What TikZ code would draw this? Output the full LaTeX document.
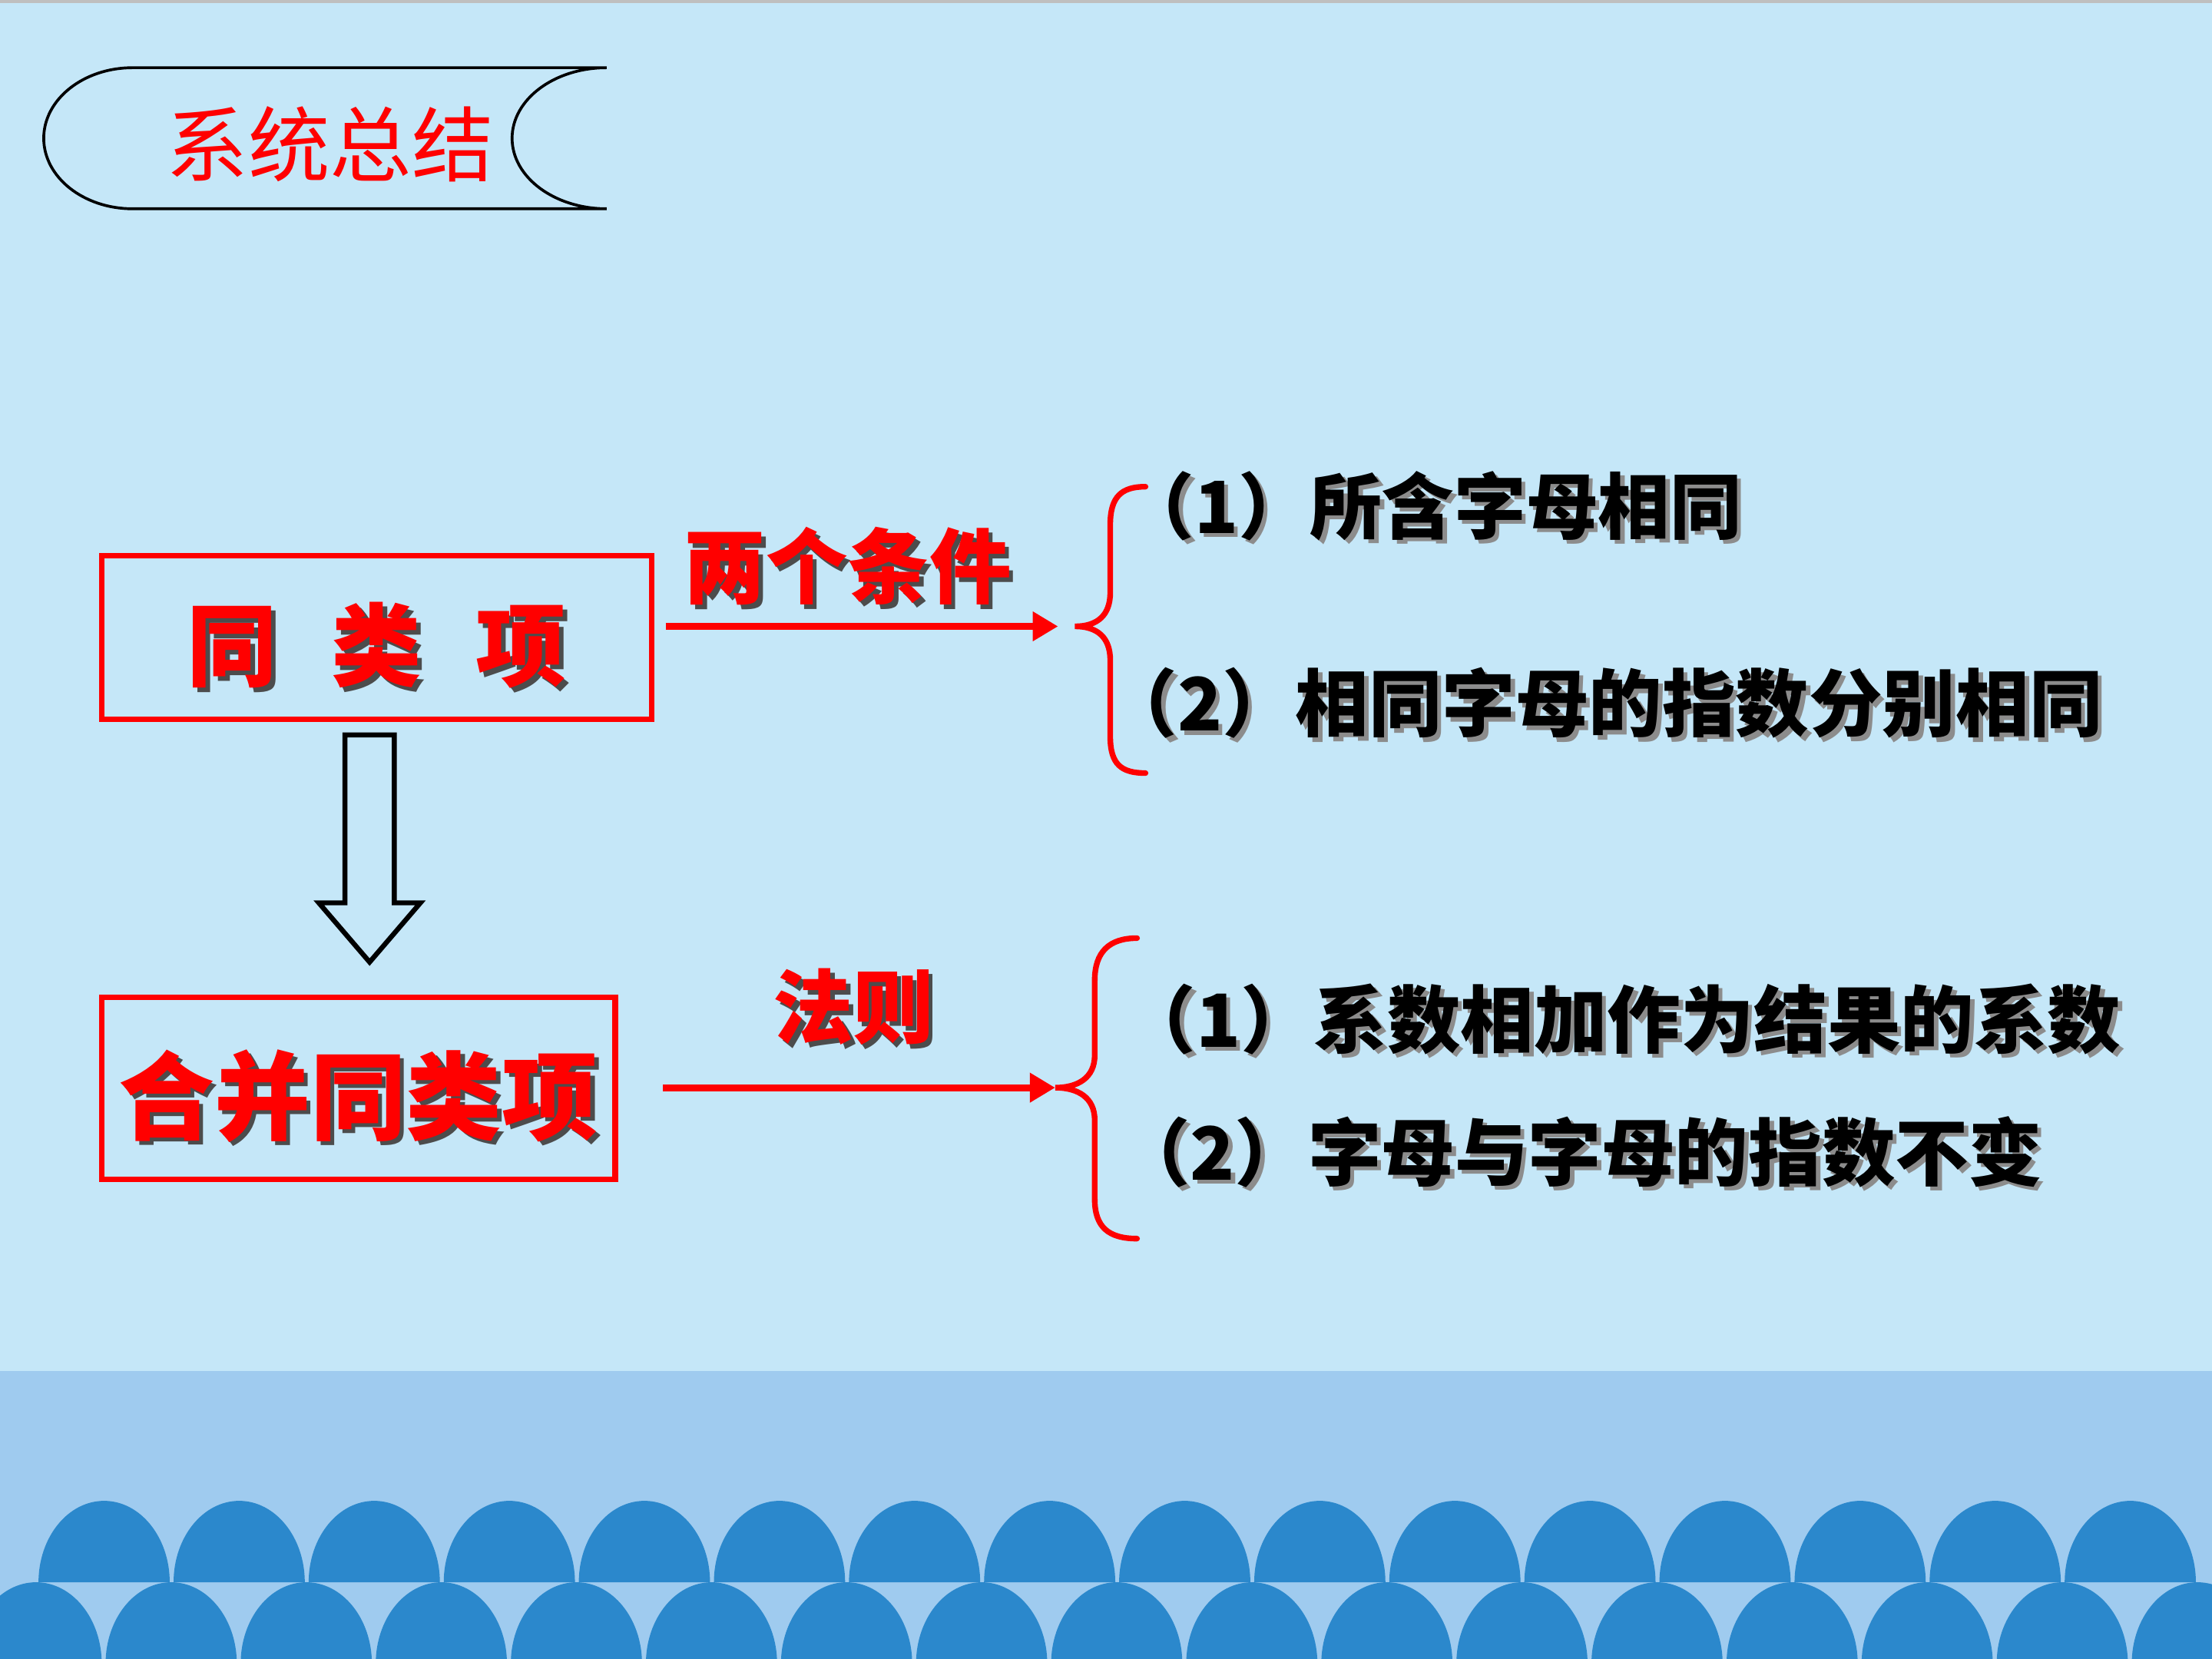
\documentclass[tikz,border=0pt]{standalone}
\usepackage{fontspec}
\newfontfamily\cjk{Noto Sans CJK SC}
\usetikzlibrary{arrows.meta,calc}

\definecolor{skytop}{HTML}{C5E7F8}
\definecolor{skyband}{HTML}{9FCBEF}
\definecolor{wave}{HTML}{2B88CC}
\definecolor{keyred}{HTML}{FF0000}

% text with a soft drop shadow
\newcommand\shad[2]{\makebox[0pt][l]{\hspace{1.5pt}\raisebox{-1.5pt}{\textcolor{#1}{#2}}}#2}
\newcommand\fsz[1]{\fontsize{#1}{#1}\selectfont}
% lower text but keep its box
\newcommand\sinktext[2]{\raisebox{-#1}[\height][\depth]{#2}}

\tikzset{every picture/.style={line width=0.75pt}}

\begin{document}
\begin{tikzpicture}[x=0.5pt,y=0.5pt,yscale=-1,xscale=1,
	redbox/.style={draw=keyred, line width=2pt, inner sep=0pt, text=keyred},
	redarrow/.style={draw=keyred, line width=2.5pt, -{Triangle[length=9pt,width=10pt]}},
	brace/.style={draw=keyred, line width=2pt, line cap=round},
	hollow/.style={draw=black, line width=1.75pt, line join=miter},
	item/.style={anchor=west, inner sep=0pt, text=black, font=\cjk\bfseries\fsz{26pt}}]
	\useasboundingbox (0,0) rectangle (1568,1176);

	%Shape: Background
	\fill[skytop] (0,0) rectangle (1568,972);
	\fill[skyband] (0,972) rectangle (1568,1176);
	\draw[black!25, line width=1pt] (0,1) -- (1568,1);
	\begin{scope}
		\clip (0,0) rectangle (1568,1176);
		\foreach \i in {0,...,15}
			\fill[wave] ({27.3+95.75*\i},1121.6) arc[start angle=180,end angle=360,x radius=46.5,y radius=57.7] -- cycle;
		\foreach \i in {0,...,16}
			\fill[wave] ({-20.9+95.75*\i},1179.3) arc[start angle=180,end angle=360,x radius=46.5,y radius=57.7] -- cycle;
	\end{scope}

	%Shape: Title Tab
	\draw[line width=1pt] (430,148) -- (94,148) arc[start angle=90,end angle=270,x radius=63,y radius=50] -- (430,48) arc[start angle=270,end angle=90,x radius=67,y radius=50];
	% Text Node
	\node[inner sep=0pt, text=keyred, font=\cjk\fsz{29pt}] (title) at (234,102) {系统总结};

	%Shape: Rectangle
	\node[redbox, minimum width=195pt, minimum height=58pt, font=\cjk\bfseries\fsz{32pt}] (same) at (267,452) {\sinktext{3.5pt}{\shad{black!70}{同\hspace{0.6em}类\hspace{0.6em}项}}};
	%Shape: Rectangle
	\node[redbox, minimum width=182pt, minimum height=64.5pt, font=\cjk\bfseries\fsz{34pt}] (merge) at (254,771.5) {\sinktext{3.5pt}{\shad{black!70}{合并同类项}}};

	%Shape: Hollow Arrow
	\coordinate (dtop) at ($(same.south)+(-5,9)$);
	\coordinate (dtip) at ($(merge.north)+(8,-23)$);
	\draw[hollow] ($(dtop)+(-17.5,0)$) -- ($(dtop)+(17.5,0)$) -- ($(dtip)+(17.5,-42)$) -- ($(dtip)+(36,-42)$) -- (dtip) -- ($(dtip)+(-36,-42)$) -- ($(dtip)+(-17.5,-42)$) -- cycle;

	%Curve Lines
	\coordinate (tipA) at (762,444);
	\draw[brace] (812,345) .. controls (795,345) and (787,352) .. (787,372) -- (787,420) .. controls (787,436) and (778,444) .. (tipA) .. controls (778,444) and (787,452) .. (787,468) -- (787,522) .. controls (787,542) and (795,548) .. (812,548);
	%Curve Lines
	\coordinate (tipB) at (748,771);
	\draw[brace] (806,665) .. controls (786,665) and (776,675) .. (776,695) -- (776,748) .. controls (776,764) and (764,771) .. (tipB) .. controls (764,771) and (776,778) .. (776,794) -- (776,850) .. controls (776,870) and (786,878) .. (806,878);

	%Straight Lines
	\draw[redarrow] ($(same.east |- tipA)+(8,0)$) -- node[above=4.75pt, xshift=-5pt, inner sep=0pt, text=keyred, font=\cjk\bfseries\fsz{29pt}] (cond) {\shad{black!70}{两个条件}} ($(tipA)+(-12,0)$);
	%Straight Lines
	\draw[redarrow] ($(merge.east |- tipB)+(32,0)$) -- node[above=12.25pt, xshift=-2pt, inner sep=0pt, text=keyred, font=\cjk\bfseries\fsz{28.5pt}] (rule) {\shad{black!70}{法则}} (tipB);

	% Text Node
	\node[item, font=\cjk\bfseries\fsz{25.5pt}] (condA) at (795,360) {\shad{black!45}{（1）所含字母相同}};
	% Text Node
	\node[item] (condB) at (782,500) {\shad{black!45}{（2）相同字母的指数分别相同}};
	% Text Node
	\node[item] (ruleA) at (795,724) {\shad{black!45}{（1）系数相加作为结果的系数}};
	% Text Node
	\node[item] (ruleB) at (791,818) {\shad{black!45}{（2）字母与字母的指数不变}};

\end{tikzpicture}
\end{document}
